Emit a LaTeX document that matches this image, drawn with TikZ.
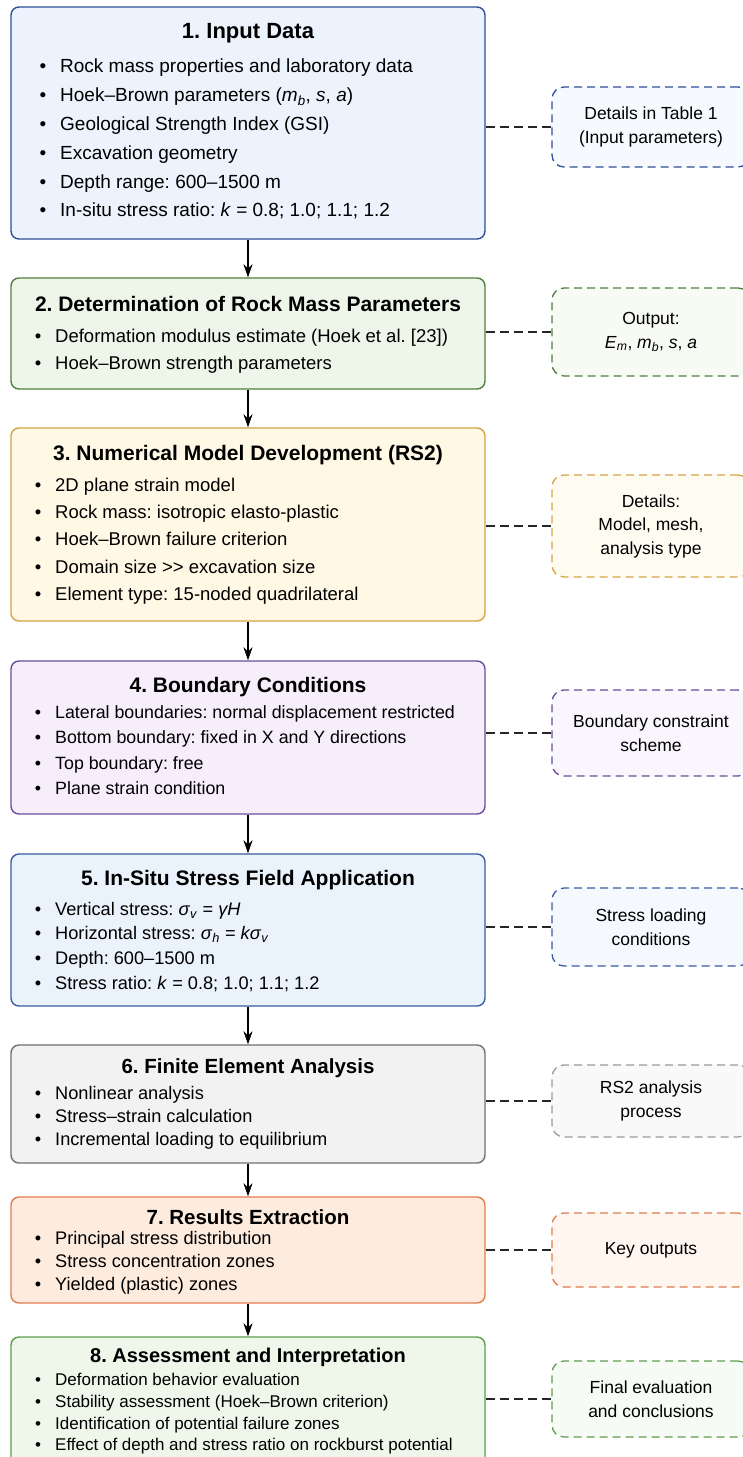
\documentclass[tikz,border=0pt]{standalone}
\usepackage{fontspec}
\setmainfont{Liberation Sans}
\usetikzlibrary{arrows.meta}
\definecolor{cAd}{HTML}{2F4F9A}\definecolor{cAf}{HTML}{EDF3FC}\definecolor{sAf}{HTML}{F6F9FE}
\definecolor{cBd}{HTML}{4F7F3F}\definecolor{cBf}{HTML}{EEF6EA}\definecolor{sBf}{HTML}{F7FBF4}
\definecolor{cCd}{HTML}{D6A447}\definecolor{cCf}{HTML}{FEF8E4}\definecolor{sCf}{HTML}{FEFCF0}
\definecolor{cDd}{HTML}{6B4D9B}\definecolor{cDf}{HTML}{F6EFFB}\definecolor{sDf}{HTML}{FAF6FD}
\definecolor{cEd}{HTML}{3B5CA0}\definecolor{cEf}{HTML}{EAF2FC}\definecolor{sEf}{HTML}{F5F9FE}
\definecolor{cFd}{HTML}{707070}\definecolor{cFf}{HTML}{F2F2F2}\definecolor{sFf}{HTML}{F9F9F9}
\definecolor{cGd}{HTML}{E07D4C}\definecolor{cGf}{HTML}{FDEBDD}\definecolor{sGf}{HTML}{FEF6EF}
\definecolor{cHd}{HTML}{5E9E4C}\definecolor{cHf}{HTML}{EFF7EB}\definecolor{sHf}{HTML}{F7FBF5}
\definecolor{sFd}{HTML}{9A9A9A}
\frenchspacing
\newcommand{\fs}[1]{\fontsize{#1}{#1}\selectfont}
\newcommand{\bx}{38}
\newcommand{\tx}{55}
\newcommand{\bitem}[3]{%
  \node[bdot] (#1d) at (\bx,#2) {•};
  \node[btext] (#1) at (\tx,#2) {#3};}
\newcommand{\vi}[1]{\textit{#1}}
\begin{document}
\begin{tikzpicture}[x=1pt,y=-1pt,
  mainbox/.style={draw, rounded corners=8pt, line width=1.4pt, minimum width=474pt, inner sep=0pt},
  sidebox/.style={draw, dash pattern=on 8pt off 5pt, rounded corners=12pt, line width=1.3pt,
     minimum width=198pt, inner sep=0pt, align=center, font=\fontsize{17.5}{23.5}\selectfont},
  ttl/.style={font=\bfseries\fs{21}, inner sep=0pt},
  bdot/.style={inner sep=0pt, text height=0.72em, text depth=0.22em},
  btext/.style={anchor=west, inner sep=0pt, text height=0.72em, text depth=0.22em},
  flow/.style={-{Stealth[length=13pt,width=9pt]}, line width=1.5pt},
  link/.style={dash pattern=on 9pt off 5pt, line width=2pt, black!85}]
\clip (0,0) rectangle (743,1457);
\useasboundingbox (0,0) rectangle (743,1457);
\fill[white] (0,0) rectangle (743,1457);

% main boxes
\node[mainbox, draw=cAd, fill=cAf, minimum height=232pt] (m1) at (248,123) {};
\node[mainbox, draw=cBd, fill=cBf, minimum height=111pt] (m2) at (248,333.5) {};
\node[mainbox, draw=cCd, fill=cCf, minimum height=193pt] (m3) at (248,524.5) {};
\node[mainbox, draw=cDd, fill=cDf, minimum height=153pt] (m4) at (248,737.5) {};
\node[mainbox, draw=cEd, fill=cEf, minimum height=152pt] (m5) at (248,930) {};
\node[mainbox, draw=cFd, fill=cFf, minimum height=118pt] (m6) at (248,1104) {};
\node[mainbox, draw=cGd, fill=cGf, minimum height=106pt] (m7) at (248,1250) {};
\node[mainbox, draw=cHd, fill=cHf, minimum height=140pt] (m8) at (248,1407) {};

% side boxes
\node[sidebox, draw=cAd, fill=sAf, minimum height=80pt] (s1) at (651,127) {Details in Table 1\\(Input parameters)};
\node[sidebox, draw=cBd, fill=sBf, minimum height=88pt] (s2) at (651,332) {Output:\\\vi{E}\textsubscript{\vi{m}}, \vi{m}\textsubscript{\vi{b}}, \vi{s}, \vi{a}};
\node[sidebox, draw=cCd, fill=sCf, minimum height=102pt] (s3) at (651,526) {Details:\\Model, mesh,\\analysis type};
\node[sidebox, draw=cDd, fill=sDf, minimum height=86pt] (s4) at (651,733) {Boundary constraint\\scheme};
\node[sidebox, draw=cEd, fill=sEf, minimum height=78pt] (s5) at (651,927) {Stress loading\\conditions};
\node[sidebox, draw=sFd, fill=sFf, minimum height=72pt] (s6) at (651,1101) {RS2 analysis\\process};
\node[sidebox, draw=cGd, fill=sGf, minimum height=74pt] (s7) at (651,1250) {Key outputs};
\node[sidebox, draw=cHd, fill=sHf, minimum height=76pt] (s8) at (651,1399) {Final evaluation\\and conclusions};

% box 1
\node[ttl, font=\bfseries\fs{22}] (t1) at (248,33) {1. Input Data};
\begin{scope}[font=\fs{19}]
\renewcommand{\bx}{43}\renewcommand{\tx}{60}
\bitem{a1}{70}{Rock mass properties and laboratory data}
\bitem{a2}{99}{Hoek–Brown parameters (\vi{m}\textsubscript{\vi{b}}, \vi{s}, \vi{a})}
\bitem{a3}{128}{Geological Strength Index (GSI)}
\bitem{a4}{157}{Excavation geometry}
\bitem{a5}{186}{Depth range: 600–1500 m}
\bitem{a6}{214}{In-situ stress ratio: \vi{k} = 0.8; 1.0; 1.1; 1.2}
\end{scope}

% box 2
\node[ttl] (t2) at (248,304) {2. Determination of Rock Mass Parameters};
\begin{scope}[font=\fs{18.5}]
\bitem{b1}{340}{Deformation modulus estimate (Hoek et al. [23])}
\bitem{b2}{367}{Hoek–Brown strength parameters}
\end{scope}

% box 3
\node[ttl] (t3) at (248,455) {3. Numerical Model Development (RS2)};
\begin{scope}[font=\fs{18.5}]
\bitem{c1}{489}{2D plane strain model}
\bitem{c2}{516}{Rock mass: isotropic elasto-plastic}
\bitem{c3}{543}{Hoek–Brown failure criterion}
\bitem{c4}{571}{Domain size \textgreater{}\textgreater{} excavation size}
\bitem{c5}{598}{Element type: 15-noded quadrilateral}
\end{scope}

% box 4
\node[ttl] (t4) at (248,687) {4. Boundary Conditions};
\begin{scope}[font=\fs{17.8}]
\bitem{d1}{716}{Lateral boundaries: normal displacement restricted}
\bitem{d2}{741}{Bottom boundary: fixed in X and Y directions}
\bitem{d3}{767}{Top boundary: free}
\bitem{d4}{792}{Plane strain condition}
\end{scope}

% box 5
\node[ttl] (t5) at (248,880) {5. In-Situ Stress Field Application};
\begin{scope}[font=\fs{18.2}]
\bitem{e1}{913}{Vertical stress: \vi{σ}\textsubscript{\vi{v}} = \vi{γH}}
\bitem{e2}{937}{Horizontal stress: \vi{σ}\textsubscript{\vi{h}} = \vi{kσ}\textsubscript{\vi{v}}}
\bitem{e3}{962}{Depth: 600–1500 m}
\bitem{e4}{987}{Stress ratio: \vi{k} = 0.8; 1.0; 1.1; 1.2}
\end{scope}

% box 6
\node[ttl, font=\bfseries\fs{20.5}] (t6) at (248,1068) {6. Finite Element Analysis};
\begin{scope}[font=\fs{18.2}]
\bitem{f1}{1097}{Nonlinear analysis}
\bitem{f2}{1120}{Stress–strain calculation}
\bitem{f3}{1143}{Incremental loading to equilibrium}
\end{scope}

% box 7
\node[ttl, font=\bfseries\fs{20.5}] (t7) at (248,1217) {7. Results Extraction};
\begin{scope}[font=\fs{18.2}]
\bitem{g1}{1242}{Principal stress distribution}
\bitem{g2}{1265}{Stress concentration zones}
\bitem{g3}{1288}{Yielded (plastic) zones}
\end{scope}

% box 8
\node[ttl, font=\bfseries\fs{20}] (t8) at (248,1357) {8. Assessment and Interpretation};
\begin{scope}[font=\fs{17}]
\bitem{h1}{1383}{Deformation behavior evaluation}
\bitem{h2}{1405}{Stability assessment (Hoek–Brown criterion)}
\bitem{h3}{1427}{Identification of potential failure zones}
\bitem{h4}{1448}{Effect of depth and stress ratio on rockburst potential}
\end{scope}

% flow arrows
\draw[flow] (m1.south) -- (m2.north);
\draw[flow] (m2.south) -- (m3.north);
\draw[flow] (m3.south) -- (m4.north);
\draw[flow] (m4.south) -- (m5.north);
\draw[flow] (m5.south) -- (m6.north);
\draw[flow] (m6.south) -- (m7.north);
\draw[flow] (m7.south) -- (m8.north);

% dashed links
\foreach \i in {1,...,8}{
  \draw[link] (s\i.west -| m\i.east) -- (s\i.west);
}
\end{tikzpicture}
\end{document}
